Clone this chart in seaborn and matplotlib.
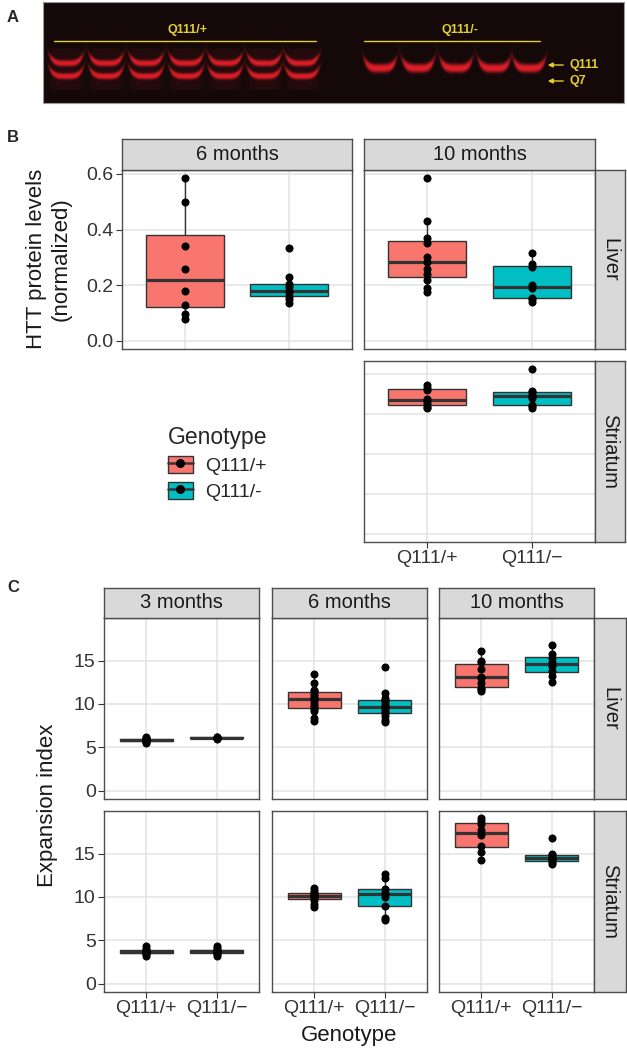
import numpy as np
import pandas as pd
import matplotlib
matplotlib.use("Agg")
import matplotlib.pyplot as plt
import seaborn as sns
from matplotlib.patches import Patch
from matplotlib.lines import Line2D
from matplotlib.legend_handler import HandlerTuple
from matplotlib.ticker import FixedLocator, FormatStrFormatter

sns.set_theme(style="white")
plt.rcParams["font.family"] = ["Liberation Sans", "DejaVu Sans"]

# ---------------- data ----------------
genotypes = ["Q111/+", "Q111/-"]
tick_labels = ["Q111/+", "Q111/\u2212"]
palette = {"Q111/+": "#F8766D", "Q111/-": "#00BFC4"}

# Panel B: HTT protein levels (normalized)
htt_liver_6m_plus = [0.08, 0.095, 0.13, 0.18, 0.26, 0.34, 0.50, 0.585]
htt_liver_6m_minus = [0.135, 0.15, 0.16, 0.175, 0.18, 0.195, 0.205, 0.23, 0.335]
htt_liver_10m_plus = [0.175, 0.19, 0.22, 0.24, 0.26, 0.285, 0.30, 0.35, 0.37, 0.43, 0.585]
htt_liver_10m_minus = [0.14, 0.15, 0.155, 0.19, 0.20, 0.265, 0.275, 0.315]
htt_striatum_10m_plus = [0.785, 0.795, 0.81, 0.83, 0.845, 0.90, 0.915, 0.93]
htt_striatum_10m_minus = [0.79, 0.80, 0.805, 0.85, 0.86, 0.87, 0.885, 0.895, 1.03]
htt_liver_ticks = [0.0, 0.2, 0.4, 0.6]
htt_striatum_ticks = [0.0, 0.25, 0.5, 0.75, 1.0]

# Panel C: expansion index
exp_liver_3m_plus = [5.5, 5.65, 5.75, 5.85, 5.9, 5.95, 6.05, 6.2]
exp_liver_3m_minus = [6.0, 6.05, 6.1, 6.15, 6.2]
exp_liver_6m_plus = [8.0, 8.4, 9.2, 9.4, 9.6, 9.9, 10.2, 10.55, 10.7, 10.9, 11.2, 11.5, 11.6, 12.4, 13.4]
exp_liver_6m_minus = [7.9, 8.2, 8.6, 8.9, 9.2, 9.5, 9.7, 9.9, 10.2, 10.5, 10.7, 11.3, 14.3]
exp_liver_10m_plus = [11.5, 11.7, 11.8, 12.4, 13.0, 13.1, 14.0, 14.8, 15.0, 16.1]
exp_liver_10m_minus = [12.5, 13.2, 13.8, 14.4, 14.8, 15.3, 15.7, 16.8]
exp_striatum_3m_plus = [3.2, 3.4, 3.5, 3.6, 3.7, 3.75, 3.85, 4.0, 4.3]
exp_striatum_3m_minus = [3.2, 3.4, 3.55, 3.65, 3.75, 3.8, 3.9, 4.1, 4.3]
exp_striatum_6m_plus = [8.8, 9.2, 9.7, 9.9, 10.0, 10.1, 10.2, 10.3, 10.5, 10.7, 11.0]
exp_striatum_6m_minus = [7.3, 7.6, 8.9, 10.0, 10.3, 10.5, 10.9, 12.2, 12.6]
exp_striatum_10m_plus = [14.2, 15.2, 15.9, 17.1, 17.7, 18.4, 18.8, 19.1]
exp_striatum_10m_minus = [13.8, 14.0, 14.2, 14.4, 14.6, 14.8, 15.0, 16.8]
exp_ticks = [0, 5, 10, 15]

# Panel A gel lanes (pixel positions of the gel picture)
gel_lanes_plus = [66, 106, 146, 186, 225, 264, 302]
gel_lanes_minus = [380, 418, 456, 494, 529]

# ---------------- figure ----------------
W, H, DPI = 627, 1049, 100
fig = plt.figure(figsize=(W / DPI, H / DPI), dpi=DPI)
fig.patch.set_facecolor("white")

BORDER = "#4D4D4D"
GRID = "#E3E3E3"
TXT = "#333333"


def add_ax(l, t, r, b):
    return fig.add_axes([l / W, 1 - b / H, (r - l) / W, (b - t) / H])


def strip(l, t, r, b, text, rot=0):
    sa = add_ax(l, t, r, b)
    sa.set_facecolor("#D9D9D9")
    sa.set_xticks([])
    sa.set_yticks([])
    for s in sa.spines.values():
        s.set_color(BORDER)
        s.set_linewidth(1.0)
    sa.text(0.5, 0.5, text, rotation=rot, ha="center", va="center",
            fontsize=14.5, color="#1A1A1A", transform=sa.transAxes)
    return sa


def panel(l, t, r, b, plus, minus, ylim, ticks, showx, showy, yfmt):
    ax = add_ax(l, t, r, b)
    df = pd.DataFrame({
        "Genotype": ["Q111/+"] * len(plus) + ["Q111/-"] * len(minus),
        "value": list(plus) + list(minus),
    })
    sns.boxplot(data=df, x="Genotype", y="value", hue="Genotype", order=genotypes,
                hue_order=genotypes, palette=palette, saturation=1, width=0.75,
                linewidth=1.0, linecolor="#333333", showcaps=False, showfliers=False,
                medianprops={"linewidth": 2.3}, legend=False, ax=ax)
    sns.stripplot(data=df, x="Genotype", y="value", order=genotypes, color="black",
                  size=5.8, jitter=False, linewidth=0, ax=ax)
    ax.set_xlim(-0.6, 1.6)
    ax.set_ylim(*ylim)
    ax.set_xticks([0, 1])
    ax.yaxis.set_major_locator(FixedLocator(ticks))
    ax.set_axisbelow(True)
    ax.grid(which="major", color=GRID, lw=1.1)
    ax.set_xlabel("")
    ax.set_ylabel("")
    for s in ax.spines.values():
        s.set_color(BORDER)
        s.set_linewidth(1.0)
    ax.tick_params(which="major", length=4, color=TXT, width=0.8, labelsize=14,
                   labelcolor=TXT, pad=2)
    ax.tick_params(axis="x", bottom=showx, labelbottom=showx)
    ax.tick_params(axis="y", left=showy, labelleft=showy)
    if showx:
        ax.set_xticklabels(tick_labels)
    if showy:
        ax.yaxis.set_major_formatter(yfmt)
    return ax


# ---------------- Panel A: gel ----------------
gax = add_ax(43, 2, 624, 103)
gx = np.arange(43, 624, 0.5)
gy = np.arange(2, 103, 0.5)
X, Y = np.meshgrid(gx, gy)
I = np.zeros_like(X)
for xc in gel_lanes_plus:
    prof = 1 / (1 + np.exp((np.abs(X - xc) - 15.5) / 1.3))
    for y0 in (63, 76):
        yc = y0 - 6.0 * ((X - xc) / 15.5) ** 4
        I += 1.5 * prof * np.exp(-((Y - yc) / 2.4) ** 2)
    I += 0.05 * prof * ((Y > 48) & (Y < 90))
for xc in gel_lanes_minus:
    prof = 1 / (1 + np.exp((np.abs(X - xc) - 14.5) / 1.3))
    yc = 68 - 6.0 * ((X - xc) / 14.5) ** 4
    I += 1.6 * prof * np.exp(-((Y - yc) / 3.3) ** 2)
I = 1 - np.exp(-1.3 * I)
bg = np.array([0.08, 0.035, 0.035])
red = np.array([1.0, 0.13, 0.18])
img = bg[None, None, :] + I[..., None] * (red - bg)[None, None, :]
gax.imshow(np.clip(img, 0, 1), extent=[43, 624, 103, 2], aspect="auto",
           interpolation="bilinear")
gax.set_xlim(43, 624)
gax.set_ylim(103, 2)
gax.set_xticks([])
gax.set_yticks([])
for s in gax.spines.values():
    s.set_color("#9A9A9A")
    s.set_linewidth(0.8)
YEL = "#E3CF2A"
narrow = ["Liberation Sans Narrow", "Liberation Sans", "DejaVu Sans"]
gax.plot([54, 316], [41, 41], color=YEL, lw=1.0)
gax.plot([364, 540], [41, 41], color=YEL, lw=1.0)
gax.text(188, 30, "Q111/+", color=YEL, fontsize=9, ha="center", va="center",
         family=narrow, fontweight="bold")
gax.text(460, 30, "Q111/-", color=YEL, fontsize=9, ha="center", va="center",
         family=narrow, fontweight="bold")
for yy, lab in ((65, "Q111"), (81, "Q7")):
    gax.annotate("", xy=(545, yy), xytext=(566, yy),
                 arrowprops=dict(arrowstyle="-|>", color=YEL, lw=1.0,
                                 mutation_scale=7))
    gax.text(570, yy, lab, color=YEL, fontsize=9, ha="left", va="center",
             family=narrow, fontweight="bold")

# panel letters
for lab, yy in (("A", 18), ("B", 138), ("C", 588)):
    fig.text(7 / W, 1 - yy / H, lab, fontsize=12, fontweight="bold",
             family=narrow, ha="left", va="center")

# ---------------- Panel B ----------------
fmt1 = FormatStrFormatter("%.1f")
fmt0 = FormatStrFormatter("%d")
ylim_bl = (-0.029, 0.614)
ylim_bs = (-0.0515, 1.0815)
panel(122, 170, 352, 349, htt_liver_6m_plus, htt_liver_6m_minus, ylim_bl,
      htt_liver_ticks, False, True, fmt1)
panel(364, 170, 595, 349, htt_liver_10m_plus, htt_liver_10m_minus, ylim_bl,
      htt_liver_ticks, False, False, fmt1)
panel(364, 361, 595, 542, htt_striatum_10m_plus, htt_striatum_10m_minus, ylim_bs,
      htt_striatum_ticks, True, False, fmt1)
strip(122, 139, 352, 170, "6 months")
strip(364, 139, 595, 170, "10 months")
strip(595, 170, 625, 349, "Liver", rot=-90)
strip(595, 361, 625, 542, "Striatum", rot=-90)
fig.text(49 / W, 1 - 259 / H, "HTT protein levels\n(normalized)", rotation=90,
         ha="center", va="center", fontsize=16, color="#1A1A1A",
         multialignment="center", linespacing=1.2)

# legend
handles = [(Patch(facecolor=palette[g], edgecolor="#333333", lw=1.0),
            Line2D([], [], color="#333333", lw=1.8),
            Line2D([], [], color="black", marker="o", ls="None", ms=5.5))
           for g in genotypes]
fig.legend(handles, genotypes, title="Genotype", loc="upper left",
           bbox_to_anchor=(160 / W, 1 - 418 / H), frameon=False, fontsize=14,
           title_fontsize=16.5, handler_map={tuple: HandlerTuple(ndivide=1)},
           handlelength=1.3, handleheight=1.0, alignment="left",
           labelspacing=0.35, handletextpad=0.6, borderaxespad=0)

# ---------------- Panel C ----------------
ylim_c = (-0.955, 19.9)
cols = [(104, 259), (272, 427), (439, 594)]
rows = [(618, 799), (811, 992)]
c_data = [
    [(exp_liver_3m_plus, exp_liver_3m_minus), (exp_liver_6m_plus, exp_liver_6m_minus),
     (exp_liver_10m_plus, exp_liver_10m_minus)],
    [(exp_striatum_3m_plus, exp_striatum_3m_minus),
     (exp_striatum_6m_plus, exp_striatum_6m_minus),
     (exp_striatum_10m_plus, exp_striatum_10m_minus)],
]
for ri, (t, b) in enumerate(rows):
    for ci, (l, r) in enumerate(cols):
        p, m = c_data[ri][ci]
        panel(l, t, r, b, p, m, ylim_c, exp_ticks, ri == 1, ci == 0, fmt0)
for (l, r), lab in zip(cols, ["3 months", "6 months", "10 months"]):
    strip(l, 588, r, 618, lab)
strip(594, 618, 626, 799, "Liver", rot=-90)
strip(594, 811, 626, 992, "Striatum", rot=-90)
fig.text(48 / W, 1 - 805 / H, "Expansion index", rotation=90, ha="center",
         va="center", fontsize=16, color="#1A1A1A")
fig.text(349 / W, 1 - 1035 / H, "Genotype", ha="center", va="center",
         fontsize=16, color="#1A1A1A")

fig.savefig("out.png", dpi=DPI, facecolor="white")
